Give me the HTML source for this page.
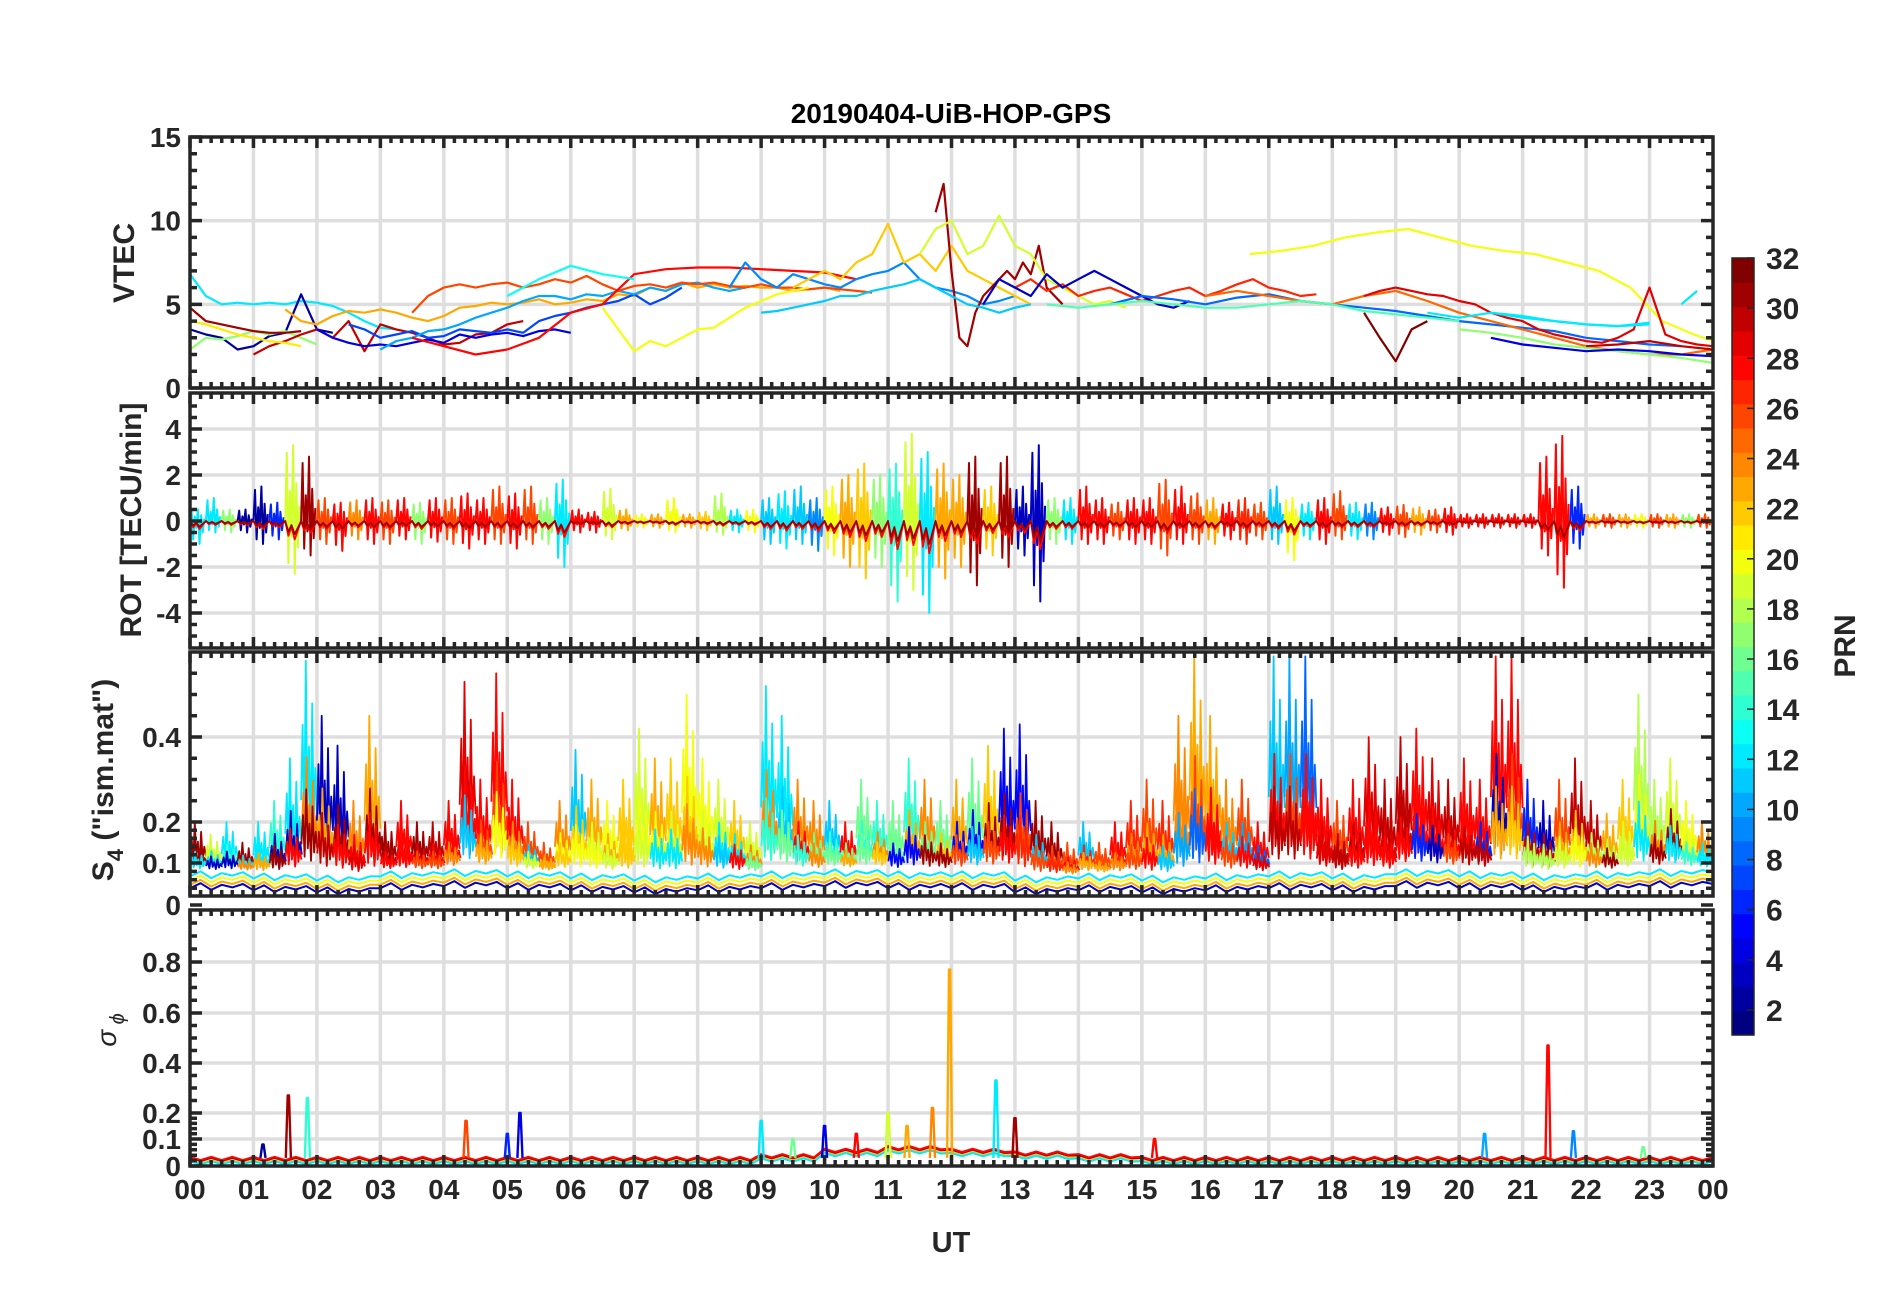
<!DOCTYPE html>
<html><head><meta charset="utf-8">
<style>
html,body{margin:0;padding:0;background:#fff;}
svg{display:block;font-family:"Liberation Sans",Arial,sans-serif;}
</style></head>
<body>
<svg id="chart" width="1902" height="1292" viewBox="0 0 1902 1292" xmlns="http://www.w3.org/2000/svg">
<defs>
<clipPath id="c1"><rect x="190" y="137" width="1523" height="251"/></clipPath>
<clipPath id="c2"><rect x="190" y="393" width="1523" height="255"/></clipPath>
<clipPath id="c3"><rect x="190" y="652" width="1523" height="244"/></clipPath>
<clipPath id="c4"><rect x="190" y="910" width="1523" height="256"/></clipPath>
</defs>
<text x="951" y="123" text-anchor="middle" font-size="28" font-weight="bold" fill="#000">20190404-UiB-HOP-GPS</text>
<g id="grids"></g>
<g id="series"></g>
<g id="axes"></g>
<text x="951" y="1252" text-anchor="middle" font-size="29" font-weight="bold" fill="#262626">UT</text>
<text transform="translate(134,263) rotate(-90)" text-anchor="middle" font-size="30" font-weight="bold" fill="#262626">VTEC</text>
<text transform="translate(141,520) rotate(-90)" text-anchor="middle" font-size="30" font-weight="bold" fill="#262626">ROT [TECU/min]</text>
<text transform="translate(113,780) rotate(-90)" text-anchor="middle" font-size="30" font-weight="bold" fill="#262626">S<tspan font-size="22" dy="10">4</tspan><tspan dy="-10"> ("ism.mat")</tspan></text>
<text transform="translate(116,1030) rotate(-90)" text-anchor="middle" font-size="28" font-style="italic" fill="#262626">σ<tspan font-size="20" dy="8"> ϕ</tspan></text>
<g id="colorbar"></g>
<text transform="translate(1855,646) rotate(-90)" text-anchor="middle" font-size="30" font-weight="bold" fill="#262626">PRN</text>
</svg>
<script>
// ---------- DATA ----------
const hourLabels = ["00","01","02","03","04","05","06","07","08","09","10","11","12","13","14","15","16","17","18","19","20","21","22","23","00"];
const vtecTicks = [0,5,10,15];
const rotTicks = [-4,-2,0,2,4];
const s4Ticks = [0,0.1,0.2,0.4];
const sigTicks = [0,0.1,0.2,0.4,0.6,0.8];
const prnTicks = [2,4,6,8,10,12,14,16,18,20,22,24,26,28,30,32];

// VTEC series: PRN, start hour, step (h), values
const vtecPrn   = [12,2,17,31,30,23,4,7,10,26,28,13,20,9,22,31,19,11,27,3,8,20,25,29,12,32,17,30,4,15,21,12,12];
const vtecStart = [0,0,0,0,1.0,1.5,2.0,2.5,3.0,3.5,3.5,5.0,6.5,8.5,9.5,11.75,11.5,9.0,13.0,12.5,14.5,16.7,16.0,18.5,19.5,18.5,20.0,22.0,20.5,13.5,0,20.5,23.5];
const vtecStep  = [0.25,0.25,0.25,0.25,0.25,0.25,0.25,0.25,0.25,0.25,0.5,0.5,0.25,0.25,0.25,0.125,0.25,0.25,0.25,0.25,0.5,0.5,0.5,0.25,0.5,0.25,0.5,0.5,0.5,0.5,0.25,0.5,0.25];
const vtecVals = [
 [6.8,5.5,5.0,5.1,5.0,5.1,5.0,5.2,5.1,4.9,4.5,4.0,3.6,3.5],
 [3.5,3.2,3.0,2.3,2.5,3.1,3.3,5.6,3.5,3.3],
 [2.3,3.0,2.9,3.1,3.4,3.2,3.4,3.0,2.6],
 [4.8,4.0,3.8,3.6,3.4,3.3,3.3,3.4],
 [2.0,2.5,2.8,3.2,3.5,3.0,4.0,2.2,3.8,3.5,3.3,3.0,2.6,2.7,3.2,3.3,3.8,4.0],
 [4.7,4.0,3.8,4.3,4.6,4.5,4.7,4.5,4.2,4.0,4.3,4.8,4.9,5.1,5.0,5.1,5.3,5.0,5.1,5.3,5.2,5.6,5.5,6.0,5.8,6.3,6.0,6.2,6.0,6.1,6.0,6.0,5.8,5.9,6.0,5.8],
 [3.5,3.0,2.7,2.5,2.6,2.5,2.7,2.9,2.7,3.2,3.0,3.2,3.3,3.1,3.4,3.5,3.3],
 [3.8,3.5,3.0,3.2,3.4,3.0,3.1,3.5,3.4,3.3,3.5,3.3,4.0,4.3,4.5,4.8,5.0,5.2,5.6,5.0,5.4,6.0],
 [2.3,2.8,3.0,3.4,3.5,3.8,4.2,4.5,4.8,5.2,5.5,5.5,5.3,5.6,5.5,5.8,5.6,6.0,5.8,6.2,6.3,6.0,5.8,6.0],
 [4.5,5.5,6.0,6.2,6.0,6.2,6.3,6.0,6.2,6.5,6.3,6.7,6.2,5.8,6.1,6.2,6.0,6.3,6.2,6.3,6.1,6.0,6.2,6.0,6.0,5.9,6.0,5.9,5.8,5.7],
 [3.0,2.5,2.0,2.3,3.0,4.5,5.0,6.8,7.1,7.2,7.2,7.1,7.0,6.9,6.5],
 [5.5,6.5,7.3,6.8,6.5],
 [4.8,3.5,2.2,2.8,2.5,3.0,3.5,3.6,4.2,4.8,5.2,5.6,5.8,6.0],
 [6.0,7.5,6.5,6.0,6.8,6.5,6.2,6.0,6.5,6.8,7.0,7.5,6.5,6.0,5.8,5.5,5.0,5.2,5.5],
 [6.0,6.5,7.0,6.5,7.5,8.0,9.8,7.5,8.0,7.0,8.5,7.0,6.5,6.0,5.5,5.0],
 [10.5,12.2,7.0,3.0,2.5,4.5,5.5,6.0,6.5,7.0,6.5,7.5,6.8,8.5,6.0,5.5,5.0],
 [8.0,9.5,10.0,8.0,8.5,10.3,8.5,8.0,6.5,6.0,5.5,5.0,5.2,4.8],
 [4.5,4.6,4.8,5.0,5.2,5.5,5.5,5.8,6.0,6.2,6.5,6.0,5.5,5.0,4.8,4.5,4.8,5.0],
 [6.0,6.5,5.8,6.2,5.5,5.8,6.0,5.6,5.2,5.5,5.8,6.0,5.5,5.8,6.2,6.5,6.0,5.8,5.5,5.6],
 [5.0,6.5,6.0,5.5,6.8,6.0,6.5,7.0,6.5,6.0,5.5,5.0,4.8,5.2],
 [5.0,5.5,5.3,5.0,5.4,5.6,5.2,5.0,4.8,4.6,4.3,4.0,3.8,3.6,3.4,3.0,2.8,2.6,2.5],
 [8.0,8.2,8.5,9.0,9.3,9.5,9.0,8.5,8.2,8.0,7.5,7.0,6.0,4.0,3.2,2.8,2.5],
 [5.5,5.8,5.5,5.2,5.0,5.5,5.8,5.2,4.5,4.0,3.5,3.0,2.5,2.2,2.0,2.0,2.3],
 [5.5,5.8,6.0,5.8,5.6,5.5,5.2,5.0,4.5,4.2,4.0,3.5,3.2,3.0,2.8,2.7,3.0,3.5,6.0,3.2,2.8,2.6,2.5,2.4,2.5,2.5],
 [4.5,4.2,4.5,4.3,4.0,3.8,3.7,3.9],
 [4.5,3.0,1.6,3.5,4.0],
 [3.5,3.3,3.0,2.6,2.4,2.2,2.0,1.8,1.5,1.0],
 [2.5,2.6,2.8,2.5,2.3,2.6,2.8,3.0],
 [3.0,2.6,2.4,2.2,2.3,2.2,2.0,1.9,2.2],
 [5.0,4.8,5.0,5.2,5.0,4.8,4.8,5.0,5.2,5.0,4.6,4.4,4.2,4.0],
 [4.0,3.8,3.5,3.2,3.0,2.8,2.7,2.5],
 [4.5,4.2,4.0,3.8,3.7,3.8],
 [5.0,5.8]
];

// ROT envelope per 15 min
const rotMax = [0.5,1.0,0.5,0.5, 1.5,0.8,3.3,2.8, 1.0,0.8,0.9,1.0, 0.9,1.0,0.8,1.0, 1.0,1.2,1.0,1.5, 1.2,1.5,1.0,1.8, 0.5,0.4,1.4,0.5, 0.3,0.3,1.0,0.3, 0.4,1.2,0.5,0.5, 1.0,1.3,1.5,1.0, 1.5,2.0,2.5,2.0, 2.5,3.8,3.0,2.5, 2.0,2.8,1.5,2.8, 1.5,3.3,1.0,1.0, 1.5,1.0,0.8,1.0, 1.0,1.8,1.5,1.2, 1.0,0.8,1.0,0.8, 1.5,1.0,0.8,1.0, 1.3,0.8,0.8,0.6, 0.7,0.6,0.5,0.6, 0.3,0.3,0.3,0.3, 0.3,2.8,3.7,1.5, 0.3,0.3,0.3,0.3, 0.3,0.3,0.3,0.3];
const rotMin = [-1.0,-0.5,-0.5,-0.5, -1.0,-0.8,-2.3,-1.5, -1.0,-1.3,-0.8,-1.0, -1.0,-0.8,-1.0,-0.9, -1.0,-1.2,-1.0,-1.0, -1.2,-1.0,-1.0,-2.0, -0.5,-0.5,-0.8,-0.4, -0.3,-0.3,-0.5,-0.3, -0.4,-0.6,-0.5,-0.5, -1.0,-1.2,-1.0,-1.3, -1.5,-2.0,-2.5,-2.0, -3.5,-3.0,-4.0,-2.5, -2.0,-2.8,-1.5,-2.0, -1.5,-3.5,-1.0,-1.0, -1.0,-1.0,-0.8,-1.0, -1.0,-1.5,-1.0,-1.0, -1.0,-0.8,-1.0,-0.8, -1.0,-1.7,-0.8,-1.0, -0.8,-0.8,-0.8,-0.6, -0.7,-0.6,-0.5,-0.6, -0.3,-0.3,-0.3,-0.3, -0.3,-1.5,-2.9,-1.2, -0.3,-0.3,-0.3,-0.3, -0.3,-0.3,-0.3,-0.3];
const rotColor = [12,12,17,2, 2,6,19,31, 26,28,24,28, 26,28,17,28, 26,28,28,26, 28,26,17,12, 28,28,19,23, 20,23,20,23, 22,18,12,20, 11,12,11,9, 20,23,22,17, 14,19,12,23, 23,31,22,31, 3,3,17,12, 28,28,26,28, 28,26,28,26, 23,28,27,26, 11,20,12,28, 26,12,9,28, 26,23,26,28, 28,28,28,28, 28,28,28,6, 23,26,23,20, 26,23,17,26];

// S4 per 15 min: peak, colour, floor
const s4Peak = [0.2,0.17,0.2,0.15, 0.2,0.25,0.35,0.58, 0.45,0.38,0.25,0.45, 0.2,0.25,0.2,0.2, 0.25,0.53,0.3,0.55, 0.3,0.2,0.15,0.25, 0.37,0.3,0.25,0.3, 0.42,0.35,0.35,0.5, 0.35,0.3,0.25,0.2, 0.52,0.45,0.3,0.25, 0.25,0.2,0.3,0.25, 0.25,0.35,0.3,0.25, 0.3,0.35,0.38,0.42, 0.43,0.25,0.2,0.15, 0.2,0.15,0.2,0.25, 0.3,0.25,0.45,0.59, 0.45,0.3,0.3,0.2, 0.59,0.59,0.59,0.3, 0.25,0.3,0.4,0.3, 0.4,0.42,0.35,0.3, 0.35,0.3,0.59,0.59, 0.3,0.25,0.3,0.35, 0.25,0.22,0.3,0.5, 0.3,0.35,0.25,0.2];
const s4Color = [31,19,12,31, 12,14,12,12, 3,3,24,23, 31,28,31,30, 28,29,28,28, 28,26,26,24, 11,23,20,22, 19,23,22,20, 20,19,22,19, 12,12,24,24, 11,28,16,14, 16,14,24,16, 23,16,22,5, 5,31,31,26, 11,26,28,27, 26,27,24,23, 23,24,26,28, 11,10,8,28, 26,28,29,30, 30,28,29,30, 28,28,28,28, 6,3,26,30, 30,23,22,18, 18,19,20,24];
const s4Floor = [0.04,0.035,0.03,0.04,0.045,0.04,0.035,0.03,0.035,0.04,0.045,0.04,0.04,0.03,0.035,0.03,0.035,0.04,0.035,0.045,0.04,0.035,0.04,0.045,0.05];

// sigma-phi floor per hour and spikes
const sigFloor = [0.03,0.03,0.03,0.03,0.03,0.03,0.03,0.03,0.03,0.04,0.06,0.07,0.06,0.05,0.04,0.03,0.03,0.03,0.03,0.03,0.03,0.03,0.03,0.03,0.03];
const sigSpikeT = [1.15,1.55,1.85,4.35,5.0,5.2,9.0,9.5,10.0,10.5,11.0,11.3,11.7,11.97,12.7,13.0,15.2,20.4,21.4,21.8,22.9];
const sigSpikeV = [0.08,0.27,0.26,0.17,0.12,0.2,0.17,0.1,0.15,0.12,0.2,0.15,0.22,0.77,0.33,0.18,0.1,0.12,0.47,0.13,0.07];
const sigSpikeC = [2,31,14,26,6,4,12,16,4,28,19,23,24,23,12,31,28,10,28,9,16];

// ---------- HELPERS ----------
const NS = "http://www.w3.org/2000/svg";
const X0 = 190, X1 = 1713;
function xs(h){ return X0 + h*(X1-X0)/24; }
function lin(d0,d1,p0,p1){ return v => p0 + (v-d0)*(p1-p0)/(d1-d0); }
function pw(pts){ return v => { for(let i=0;i<pts.length-1;i++){ const a=pts[i], b=pts[i+1]; if(v<=b[0]||i===pts.length-2) return a[1]+(v-a[0])*(b[1]-a[1])/(b[0]-a[0]); } }; }
const yV = lin(0,15,388,137);
const yR = lin(0,4,521,429);
const yS = pw([[0,905],[0.1,863],[0.2,822],[0.4,737],[0.6,652]]);
const yP = pw([[0,1166],[0.1,1139],[0.2,1113],[0.4,1063],[0.6,1013],[0.8,962],[1.0,910]]);
function jet(p){
  const t=(p-1)/31; const c=v=>Math.round(255*Math.max(0,Math.min(1,v)));
  return `rgb(${c(1.5-Math.abs(4*t-3))},${c(1.5-Math.abs(4*t-2))},${c(1.5-Math.abs(4*t-1))})`;
}
function el(tag, attrs, parent){ const e=document.createElementNS(NS,tag); for(const k in attrs) e.setAttribute(k,attrs[k]); parent.appendChild(e); return e; }
const G = document.getElementById("grids"), S = document.getElementById("series"), A = document.getElementById("axes");
const ink = "#262626";

const panels = [
 {name:"vtec", top:137, bot:388, y:yV, ticks:vtecTicks, lab:v=>String(v), minor:[1,2,3,4,6,7,8,9,11,12,13,14], clip:"c1"},
 {name:"rot", top:393, bot:648, y:yR, ticks:rotTicks, lab:v=>String(v), minor:[-5,-4.5,-3.5,-3,-2.5,-1.5,-1,-0.5,0.5,1,1.5,2.5,3,3.5,4.5,5], clip:"c2"},
 {name:"s4", top:652, bot:896, y:yS, ticks:s4Ticks, lab:v=>v===0?"0":String(v), minor:[0.02,0.04,0.06,0.08,0.12,0.14,0.16,0.18,0.25,0.3,0.35,0.45,0.5,0.55], clip:"c3"},
 {name:"sigma-phi", top:910, bot:1166, y:yP, ticks:sigTicks, lab:v=>v===0?"0":String(v), minor:[0.02,0.04,0.06,0.08,0.12,0.14,0.16,0.18,0.25,0.3,0.35,0.45,0.5,0.55,0.65,0.7,0.75,0.85,0.9,0.95], clip:"c4"}
];

// ---------- GRIDS & AXES ----------
panels.forEach((p,pi)=>{
  for(let h=1;h<24;h++){
    const g=el("line",{x1:xs(h),x2:xs(h),y1:p.top,y2:p.bot,stroke:"#dedede","stroke-width":3.5},G);
    
    
  }
  p.ticks.forEach(v=>{
    const yy=p.y(v); if(yy<p.top+2||yy>p.bot-2) return;
    const g=el("line",{x1:X0,x2:X1,y1:yy,y2:yy,stroke:"#dedede","stroke-width":3.5},G);
    
    
  });
  const fr=el("rect",{x:X0,y:p.top,width:X1-X0,height:p.bot-p.top,fill:"none",stroke:ink,"stroke-width":3.5},A);
  
  
  let d="";
  for(let h=0;h<=24;h+=1/6){
    const x=xs(h); const major=Math.abs(h-Math.round(h))<1e-6; const L=major?11:6;
    d+=`M${x},${p.top}v${L}M${x},${p.bot}v${-L}`;
  }
  p.ticks.forEach(v=>{ const yy=p.y(v); d+=`M${X0},${yy}h12M${X1},${yy}h-12`; });
  p.minor.forEach(v=>{ const yy=p.y(v); if(yy<p.top||yy>p.bot) return; d+=`M${X0},${yy}h7M${X1},${yy}h-7`; });
  const tk=el("path",{d:d,stroke:ink,"stroke-width":3.5,fill:"none"},A);
  
  
  p.ticks.forEach(v=>{
    const t=el("text",{x:X0-9,y:p.y(v)+10,"text-anchor":"end","font-size":28,"font-weight":"bold",fill:ink},A);
    t.textContent=p.lab(v);
    
    
  });
});
hourLabels.forEach((l,i)=>{
  const t=el("text",{x:xs(i),y:1199,"text-anchor":"middle","font-size":28,"font-weight":"bold",fill:ink},A);
  t.textContent=l;
  
  
});

// ---------- SERIES ----------
function poly(pts, color, clip, name, w){
  const e=el("polyline",{points:pts.map(q=>q[0].toFixed(1)+","+q[1].toFixed(1)).join(" "),fill:"none",stroke:color,"stroke-width":w||2.2,"stroke-linejoin":"round","clip-path":`url(#${clip})`},S);
  
  
  return e;
}
// VTEC
vtecVals.forEach((vals,si)=>{
  const pts=vals.map((v,k)=>[xs(Math.min(24,vtecStart[si]+k*vtecStep[si])), yV(v)]);
  poly(pts, jet(vtecPrn[si]), "c1", "vtec-line-prn"+vtecPrn[si]);
});
// ROT
const zz=[0,0.9,-0.8,0.4,-0.3,1,-1,0.5,-0.5,0.2];
function rotSeries(color, amp, name, w){
  const pts=[];
  rotMax.forEach((mx,i)=>{
    const mn=rotMin[i];
    for(let k=0;k<zz.length;k+=2){
      const f=zz[k]*amp; const v=f>=0?f*mx:-f*mn;
      pts.push([xs(i*0.25+k*0.025), yR(v)]);
    }
  });
  poly(pts, color, "c2", name, w);
}
rotMax.forEach((mx,i)=>{
  const pts=[]; const mn=rotMin[i];
  for(let k=0;k<zz.length;k++){ const f=zz[k]; pts.push([xs(i*0.25+k*0.025), yR(f>=0?f*mx:-f*mn)]); }
  poly(pts, jet(rotColor[i]), "c2", "rot-burst", 2);
});
rotSeries(jet(28), 0.35, "rot-line-prn28", 1.8);
rotSeries(jet(31), 0.25, "rot-line-prn31", 1.8);
// S4 floor lines
const fz=[0,0.012,-0.004,0.008,0.002,0.01];
[[3,0],[23,0.008],[20,0.018],[12,0.028]].forEach(([prn,off])=>{
  const pts=[];
  s4Floor.forEach((v,h)=>{ if(h<24){ for(let k=0;k<6;k++){ pts.push([xs(h+k/6), yS(Math.max(0.02,v+off+fz[k]))]); } } else pts.push([xs(24),yS(v+off)]); });
  poly(pts, jet(prn), "c3", "s4-floor-prn"+prn, 2);
});
// S4 bursts
const sz=[0.35,0.7,0.2,1,0.3,0.6,0.15,0.8,0.25,0.5,0.3];
s4Peak.forEach((pk,i)=>{
  const base=s4Floor[Math.floor(i/4)]+0.04;
  [[s4Color[i],1,0],[(s4Color[(i+3)%96]),0.55,0.012],[(s4Color[(i+7)%96]),0.4,0.006]].forEach(([c,a,dt])=>{
    const pts=[];
    for(let k=0;k<sz.length;k++){ pts.push([xs(i*0.25+dt+k*0.025), yS(base+(pk-base)*sz[k]*a)]); }
    poly(pts, jet(c), "c3", "s4-burst", 1.8);
  });
});
// sigma-phi floor
[[31,0],[22,-0.008],[12,-0.012],[28,0.004]].forEach(([prn,off])=>{
  const pts=[];
  sigFloor.forEach((v,h)=>{ if(h<24){ for(let k=0;k<6;k++){ pts.push([xs(h+k/6), yP(Math.max(0.004,v+off-(k%2?0.012:0)))]); } } else pts.push([xs(24),yP(v+off)]); });
  poly(pts, jet(prn), "c4", "sigma-floor-prn"+prn, 2);
});
sigSpikeT.forEach((t,i)=>{
  const pts=[[xs(t-0.04),yP(0.03)],[xs(t-0.01),yP(sigSpikeV[i])],[xs(t+0.01),yP(sigSpikeV[i])],[xs(t+0.04),yP(0.03)]];
  poly(pts, jet(sigSpikeC[i]), "c4", "sigma-spike", 2.4);
});

// ---------- COLORBAR ----------
const CB=document.getElementById("colorbar");
const cbTop=258, cbBot=1035, cbL=1732, cbW=22;
for(let p=1;p<=32;p++){
  const y0=cbBot-(p)*(cbBot-cbTop)/32;
  const r=el("rect",{x:cbL,y:y0,width:cbW,height:(cbBot-cbTop)/32+0.6,fill:jet(p)},CB);
  
  
}
const cbo=el("rect",{x:cbL,y:cbTop,width:cbW,height:cbBot-cbTop,fill:"none",stroke:ink,"stroke-width":1.5},CB);


const cbY=lin(1,32,cbBot,cbTop);
prnTicks.forEach(v=>{
  const tl=el("line",{x1:cbL+cbW-7,x2:cbL+cbW,y1:cbY(v),y2:cbY(v),stroke:ink,"stroke-width":1.5},CB);
  
  
  const t=el("text",{x:1766,y:cbY(v)+11,"font-size":30,"font-weight":"bold",fill:ink},CB);
  t.textContent=String(v);
  
  
});
</script>
</body></html>
